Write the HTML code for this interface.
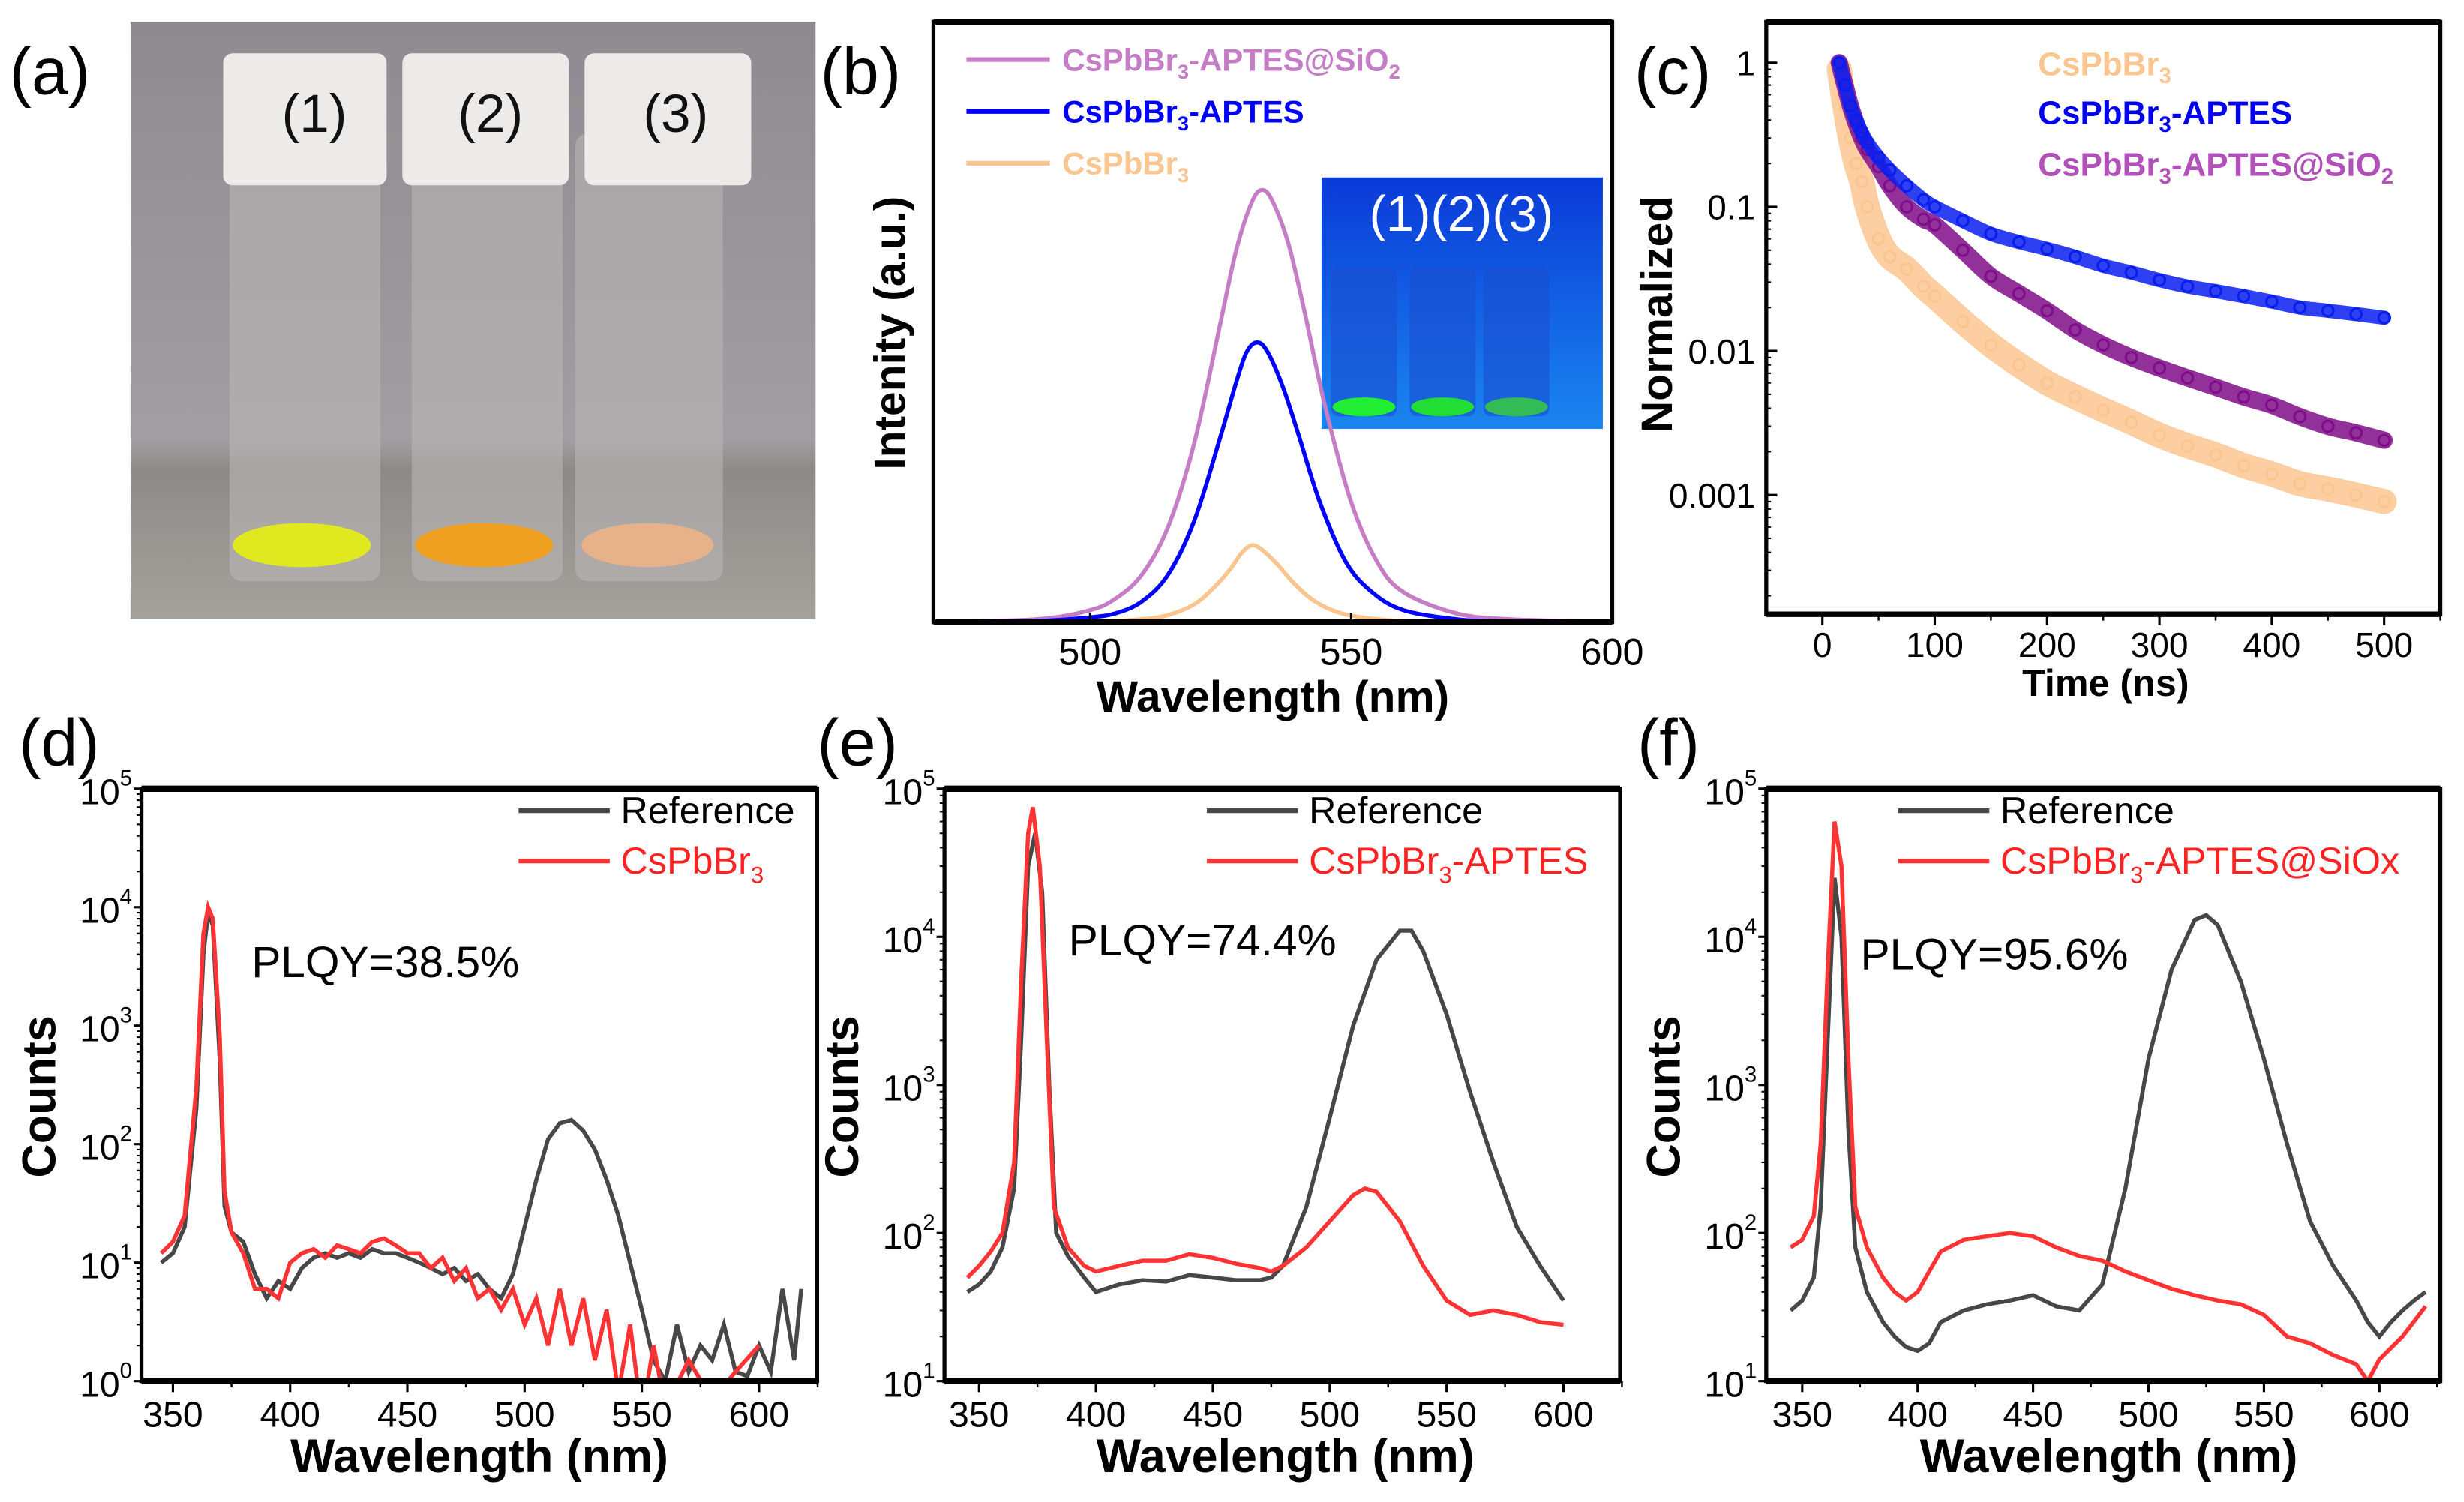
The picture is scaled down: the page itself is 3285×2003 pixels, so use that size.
<!DOCTYPE html>
<html><head><meta charset="utf-8"><style>
html,body{margin:0;padding:0;background:#fff;}
svg{display:block;}
text{font-family:"Liberation Sans",sans-serif;}
</style></head><body>
<svg id="fig" xmlns="http://www.w3.org/2000/svg" width="3285" height="2003" viewBox="0 0 1568 956" preserveAspectRatio="none">
<defs>
<linearGradient id="photoBg" x1="0" y1="0" x2="0" y2="1"><stop offset="0" stop-color="#8f8a8f"/><stop offset="0.7" stop-color="#a29ea2"/><stop offset="0.75" stop-color="#8d8a87"/><stop offset="1" stop-color="#a5a29e"/></linearGradient>
<linearGradient id="insetBg" x1="0" y1="0" x2="0" y2="1"><stop offset="0" stop-color="#0a3ad8"/><stop offset="1" stop-color="#1a86f0"/></linearGradient>
<clipPath id="clipB"><rect x="594" y="14" width="432" height="382"/></clipPath>
<clipPath id="clipC"><rect x="1124" y="14" width="429" height="377"/></clipPath>
<clipPath id="clipD"><rect x="90" y="502" width="430" height="377"/></clipPath>
<clipPath id="clipE"><rect x="601" y="502" width="430" height="377"/></clipPath>
<clipPath id="clipF"><rect x="1124" y="502" width="429" height="377"/></clipPath>
</defs>

<!-- panel labels -->
<text x="6" y="60" font-size="42">(a)</text>
<text x="522" y="60" font-size="42">(b)</text>
<text x="1040" y="60" font-size="42">(c)</text>
<text x="12" y="487" font-size="42">(d)</text>
<text x="520" y="487" font-size="42">(e)</text>
<text x="1042" y="487" font-size="42">(f)</text>

<!-- (a) photo -->
<g>
<rect x="83" y="14" width="436" height="380" fill="url(#photoBg)"/>
<g>
<rect x="146" y="85" width="96" height="285" rx="8" fill="#b9b6b6" opacity="0.6"/>
<rect x="142" y="34" width="104" height="84" rx="6" fill="#ecebea"/>
<ellipse cx="192" cy="347" rx="44" ry="14" fill="#e0e820"/>
<text x="200" y="84" font-size="34" text-anchor="middle" fill="#111">(1)</text></g>
<g>
<rect x="262" y="85" width="96" height="285" rx="8" fill="#b9b6b6" opacity="0.6"/>
<rect x="256" y="34" width="106" height="84" rx="6" fill="#ecebea"/>
<ellipse cx="308" cy="347" rx="44" ry="14" fill="#f0a020"/>
<text x="312" y="84" font-size="34" text-anchor="middle" fill="#111">(2)</text></g>
<g>
<rect x="366" y="85" width="94" height="285" rx="8" fill="#b9b6b6" opacity="0.6"/>
<rect x="372" y="34" width="106" height="84" rx="6" fill="#ecebea"/>
<ellipse cx="412" cy="347" rx="42" ry="14" fill="#e7b28a"/>
<text x="430" y="84" font-size="34" text-anchor="middle" fill="#111">(3)</text></g>
</g>

<g id="gB"></g>
<g id="gC"></g>
<g id="gD"></g>
<g id="gE"></g>
<g id="gF"></g>
</svg>
<script>
// ---------- (b) data ----------
const bTicks=[500,550,600];
const bPurpleX=[470,490,500,505,510,515,520,525,528,531,533,535,538,541,545,550,555,560,570,580,600];
const bPurpleY=[0,0.005,0.02,0.04,0.08,0.16,0.3,0.5,0.62,0.70,0.72,0.70,0.63,0.52,0.36,0.2,0.1,0.05,0.015,0.005,0];
const bBlueX=[470,490,500,505,510,515,520,525,528,530,532,534,537,540,544,549,554,560,570,580,600];
const bBlueY=[0,0.002,0.008,0.015,0.035,0.08,0.17,0.31,0.40,0.45,0.466,0.45,0.39,0.31,0.2,0.1,0.05,0.02,0.005,0.001,0];
const bOrangeX=[470,500,510,515,520,524,527,529,531,533,536,539,543,548,555,565,600];
const bOrangeY=[0,0.001,0.005,0.012,0.03,0.06,0.09,0.115,0.128,0.12,0.095,0.065,0.035,0.015,0.005,0.001,0];
// ---------- (c) data ----------
const cTicks=[0,100,200,300,400,500];
const cYTicks=[1,0.1,0.01,0.001];
const cYLabels=["1","0.1","0.01","0.001"];
const cTime=[15,20,25,30,35,40,50,60,75,90,100,125,150,175,200,225,250,275,300,325,350,375,400,425,450,475,500];
const cBlue=[1,0.7,0.5,0.4,0.33,0.28,0.22,0.18,0.14,0.112,0.1,0.08,0.065,0.057,0.051,0.045,0.039,0.035,0.031,0.028,0.026,0.024,0.022,0.02,0.019,0.018,0.017];
const cPurple=[1,0.7,0.5,0.38,0.3,0.25,0.19,0.14,0.1,0.082,0.075,0.05,0.033,0.025,0.019,0.014,0.011,0.009,0.0076,0.0065,0.0056,0.0048,0.0042,0.0035,0.003,0.0027,0.0024];
const cOrange=[0.9,0.5,0.3,0.2,0.15,0.1,0.06,0.045,0.037,0.028,0.024,0.016,0.011,0.008,0.006,0.0048,0.0039,0.0032,0.0026,0.0022,0.0019,0.0016,0.0014,0.0012,0.0011,0.001,0.0009];
// ---------- (d) data ----------
const dTicks=[350,400,450,500,550,600];
const dRefX=[345,350,355,360,363,365,367,370,372,375,380,385,390,395,400,405,410,415,420,425,430,435,440,445,450,455,460,465,470,475,480,485,490,495,500,505,510,515,520,525,530,535,540,545,550,555,560,565,570,575,580,585,590,595,600,605,610,615,618];
const dRefY=[10,12,20,200,4000,9000,7000,500,30,18,15,8,5,7,6,9,11,12,11,12,11,13,12,12,11,10,9,8,9,7,8,6,5,8,20,50,110,150,160,130,90,50,25,10,4,1.5,1,3,1.2,2,1.5,3,1.2,1.1,2,1.2,6,1.5,6];
const dSmpX=[345,350,355,360,363,365,367,370,372,375,380,385,390,395,400,405,410,415,420,425,430,435,440,445,450,455,460,465,470,475,480,485,490,495,500,505,510,515,520,525,530,535,540,545,550,555,560,570,580,590,600];
const dSmpY=[12,15,25,300,6000,10000,8000,800,40,18,12,6,6,5,10,12,13,11,14,13,12,15,16,14,12,12,9,11,7,9,5,6,4,6,3,5,2,6,2,5,1.5,4,0.8,3,0.5,2,0.6,1.5,0.7,1.2,2];
// ---------- (e) data ----------
const eTicks=[350,400,450,500,550,600];
const eRefX=[345,350,355,360,365,368,371,374,377,380,383,388,395,400,410,420,430,440,450,460,470,475,480,490,500,510,520,530,535,540,550,560,570,580,590,600];
const eRefY=[40,45,55,80,200,2000,30000,50000,20000,1000,100,70,50,40,45,48,47,52,50,48,48,50,60,150,600,2500,7000,11000,11000,8000,3000,900,300,110,60,35];
const eSmpX=[345,350,355,360,365,368,371,373,376,379,382,388,395,400,410,420,430,440,450,460,470,475,480,490,500,510,515,520,530,540,550,560,570,580,590,600];
const eSmpY=[50,60,75,100,300,5000,50000,75000,30000,2000,150,80,60,55,60,65,65,72,68,62,58,55,60,80,120,180,200,190,120,60,35,28,30,28,25,24];
// ---------- (f) data ----------
const fTicks=[350,400,450,500,550,600];
const fRefX=[345,350,355,358,361,364,367,370,373,378,385,390,395,400,405,410,420,430,440,450,460,470,480,490,500,510,520,525,530,540,550,560,570,580,590,595,600,605,610,615,620];
const fRefY=[30,35,50,150,2000,25000,10000,500,80,40,25,20,17,16,18,25,30,33,35,38,32,30,45,200,1500,6000,13000,14000,12000,5000,1500,400,120,60,35,25,20,25,30,35,40];
const fSmpX=[345,350,355,358,361,364,367,370,373,378,385,390,395,400,405,410,420,430,440,450,460,470,480,490,500,510,520,530,540,550,560,570,580,590,595,600,610,620];
const fSmpY=[80,90,130,400,6000,60000,30000,1500,150,80,50,40,35,40,55,75,90,95,100,95,80,70,65,55,48,42,38,35,33,28,20,18,15,13,10,14,20,32];

const NS="http://www.w3.org/2000/svg";
function mk(parent,tag,attrs){const e=document.createElementNS(NS,tag);for(const k in attrs)e.setAttribute(k,attrs[k]);parent.appendChild(e);return e;}
function txt(parent,x,y,s,size,extra){const t=mk(parent,'text',Object.assign({x:x,y:y,'font-size':size},extra||{}));t.textContent=s;return t;}
function pathD(xs,ys,xf,yf){let d='';for(let i=0;i<xs.length;i++){d+=(i?'L':'M')+xf(xs[i]).toFixed(2)+','+yf(ys[i]).toFixed(2);}return d;}
function smoothD(xs,ys,xf,yf){const p=xs.map((x,i)=>[xf(x),yf(ys[i])]);let d='M'+p[0][0]+','+p[0][1];for(let i=0;i<p.length-1;i++){const p0=p[i-1]||p[i],p1=p[i],p2=p[i+1],p3=p[i+2]||p2;const c1x=p1[0]+(p2[0]-p0[0])/6,c1y=p1[1]+(p2[1]-p0[1])/6,c2x=p2[0]-(p3[0]-p1[0])/6,c2y=p2[1]-(p3[1]-p1[1])/6;d+='C'+c1x.toFixed(2)+','+c1y.toFixed(2)+' '+c2x.toFixed(2)+','+c2y.toFixed(2)+' '+p2[0].toFixed(2)+','+p2[1].toFixed(2);}return d;}

// ===== Panel B =====
(function(){
const g=document.getElementById('gB');
const L=594,R=1026,T=14,B=396;
const xf=v=>L+(v-470)/130*(R-L);
const yf=v=>B-v*(B-T);
const inset=mk(g,'g',{});


mk(inset,'rect',{x:841,y:113,width:179,height:160,fill:'url(#insetBg)'});
[[865,'#22ee33'],[915,'#22dd33'],[962,'#33bb55']].forEach((v,i)=>{mk(inset,'rect',{x:v[0]-18,y:170,width:42,height:95,rx:5,fill:'#1a4fd0',opacity:0.6});mk(inset,'ellipse',{cx:v[0]+3,cy:259,rx:20,ry:6,fill:v[1]});});
const it=txt(inset,930,147,'(1)(2)(3)',32,{'text-anchor':'middle',fill:'#fff'});
const series=[[bOrangeX,bOrangeY,'#fbc590','curve-cspbbr3'],[bPurpleX,bPurpleY,'#c57dc6','curve-cspbbr3-aptes-sio2'],[bBlueX,bBlueY,'#0000ff','curve-cspbbr3-aptes']];
series.forEach(s=>{const p=mk(g,'path',{d:smoothD(s[0],s[1],xf,yf),fill:'none',stroke:s[2],'stroke-width':2.6,'clip-path':'url(#clipB)'});

});
const fr=mk(g,'rect',{x:L,y:T,width:R-L,height:B-T,fill:'none',stroke:'#000','stroke-width':2.5});


mk(g,'line',{x1:L,y1:T,x2:R,y2:T,stroke:'#000','stroke-width':3.5});
mk(g,'line',{x1:L,y1:B,x2:R,y2:B,stroke:'#000','stroke-width':3.5});
bTicks.forEach(v=>{const t=txt(g,xf(v),423,String(v),24,{'text-anchor':'middle'});


mk(g,'line',{x1:xf(v),y1:B,x2:xf(v),y2:B-6,stroke:'#000','stroke-width':1.5});});
const xt=txt(g,810,453,'Wavelength (nm)',28,{'text-anchor':'middle','font-weight':'bold'});


const yt=txt(g,0,0,'Intenity (a.u.)',28,{'text-anchor':'middle','font-weight':'bold',transform:'translate(576,212) rotate(-90)'});


const leg=[[38,'#c57dc6','-APTES@SiO','2'],[71,'#0000ff','-APTES',''],[104,'#fbc590','','']];
leg.forEach((l,i)=>{const e=mk(g,'g',{});


mk(e,'line',{x1:615,y1:l[0],x2:668,y2:l[0],stroke:l[1],'stroke-width':3});
const t=mk(e,'text',{x:676,y:l[0]+7,'font-size':20,fill:l[1],'font-weight':'bold','font-family':'Liberation Serif, serif'});
t.innerHTML='CsPbBr<tspan font-size="13" dy="5">3</tspan><tspan dy="-5">'+l[2]+'</tspan>'+(l[3]?'<tspan font-size="13" dy="5">'+l[3]+'</tspan>':'');});
})();

// ===== Panel C =====
(function(){
const g=document.getElementById('gC');
const L=1124,R=1553,T=14,B=391;
const xf=v=>L+(v+50)/600*(R-L);
const yf=v=>40-Math.log10(v)*91.7;
const series=[[cOrange,'#fbc590','decay-cspbbr3',16],[cPurple,'#800d8a','decay-cspbbr3-aptes-sio2',11],[cBlue,'#0a1ef0','decay-cspbbr3-aptes',9]];
series.forEach(s=>{const grp=mk(g,'g',{'clip-path':'url(#clipC)'});


mk(grp,'path',{d:smoothD(cTime,s[0],xf,yf),fill:'none',stroke:s[1],'stroke-width':s[3],'stroke-linecap':'round',opacity:0.85});
cTime.forEach((t,i)=>{const c=mk(grp,'circle',{cx:xf(t),cy:yf(s[0][i]),r:3.5,fill:'none',stroke:s[1],'stroke-width':1.5});

});});
const fr=mk(g,'rect',{x:L,y:T,width:R-L,height:B-T,fill:'none',stroke:'#000','stroke-width':2.5});


mk(g,'line',{x1:L,y1:T,x2:R,y2:T,stroke:'#000','stroke-width':3.5});
mk(g,'line',{x1:L,y1:B,x2:R,y2:B,stroke:'#000','stroke-width':3.5});
cTicks.forEach(v=>{mk(g,'line',{x1:xf(v),y1:B,x2:xf(v),y2:B+7,stroke:'#000','stroke-width':1.5});
mk(g,'line',{x1:xf(v+50),y1:B,x2:xf(v+50),y2:B+4,stroke:'#000','stroke-width':1.2});
const t=txt(g,xf(v),418,String(v),22,{'text-anchor':'middle'});

});
cYTicks.forEach((v,i)=>{mk(g,'line',{x1:L,y1:yf(v),x2:L+7,y2:yf(v),stroke:'#000','stroke-width':1.5});
for(let k=2;k<10;k++){const y=yf(v*k/10);if(y>T&&y<B)mk(g,'line',{x1:L,y1:y,x2:L+3,y2:y,stroke:'#000','stroke-width':1});}
const t=txt(g,1117,yf(v)+8,cYLabels[i],22,{'text-anchor':'end'});

});
const xt=txt(g,1340,443,'Time (ns)',24,{'text-anchor':'middle','font-weight':'bold'});


const yt=txt(g,0,0,'Normalized',28,{'text-anchor':'middle','font-weight':'bold',transform:'translate(1064,200) rotate(-90)'});


[[48,'#fbc590',''],[79,'#0000ee','-APTES'],[112,'#b050b8','-APTES@SiO<tspan font-size="14" dy="5">2</tspan>']].forEach(l=>{
const t=mk(g,'text',{x:1297,y:l[0],'font-size':21,'font-weight':'bold',fill:l[1]});


t.innerHTML='CsPbBr<tspan font-size="14" dy="5">3</tspan><tspan dy="-5">'+l[2]+'</tspan>';});
})();

// ===== Panels D/E/F =====
function spec(id,clip,L,R,xmin,xmax,lmin,lmax,ticks,refX,refY,smpX,smpY,legHtml,legX,plqy,plqyX,plqyY,titleX,tag){
const g=document.getElementById(id);
const T=502,B=879;
const xf=v=>L+(v-xmin)/(xmax-xmin)*(R-L);
const yf=v=>B-(Math.log10(Math.max(v,1e-3))-lmin)/(lmax-lmin)*(B-T);
const r=mk(g,'path',{d:pathD(refX,refY,xf,yf),fill:'none',stroke:'#474747','stroke-width':2.6,'clip-path':'url('+clip+')'});


const s=mk(g,'path',{d:pathD(smpX,smpY,xf,yf),fill:'none',stroke:'#ff3333','stroke-width':2.6,'clip-path':'url('+clip+')'});


const fr=mk(g,'rect',{x:L,y:T,width:R-L,height:B-T,fill:'none',stroke:'#000','stroke-width':2.5});


mk(g,'line',{x1:L,y1:T,x2:R,y2:T,stroke:'#000','stroke-width':4});
mk(g,'line',{x1:L,y1:B,x2:R,y2:B,stroke:'#000','stroke-width':4});
ticks.forEach(v=>{mk(g,'line',{x1:xf(v),y1:B,x2:xf(v),y2:B+7,stroke:'#000','stroke-width':1.5});
mk(g,'line',{x1:xf(v+25),y1:B,x2:xf(v+25),y2:B+4,stroke:'#000','stroke-width':1.2});
const t=txt(g,xf(v),908,String(v),23,{'text-anchor':'middle'});

});
for(let e=lmin;e<=lmax;e++){const y=yf(Math.pow(10,e));
mk(g,'line',{x1:L,y1:y,x2:L-5,y2:y,stroke:'#000','stroke-width':1.5});
for(let k=2;k<10&&e<lmax;k++){mk(g,'line',{x1:L,y1:yf(k*Math.pow(10,e)),x2:L-3,y2:yf(k*Math.pow(10,e)),stroke:'#000','stroke-width':1});}
const t=mk(g,'text',{x:L-6,y:y+10,'font-size':23,'text-anchor':'end'});


t.innerHTML='10<tspan font-size="14" dy="-12">'+e+'</tspan>';}
const xt=txt(g,titleX,937,'Wavelength (nm)',30,{'text-anchor':'middle','font-weight':'bold'});


const yt=txt(g,0,0,'Counts',30,{'text-anchor':'middle','font-weight':'bold',transform:'translate('+(L-55)+',698) rotate(-90)'});


const l1=mk(g,'g',{});


mk(l1,'line',{x1:legX,y1:516,x2:legX+58,y2:516,stroke:'#474747','stroke-width':3});
txt(l1,legX+65,524,'Reference',24);
const l2=mk(g,'g',{});


mk(l2,'line',{x1:legX,y1:548,x2:legX+58,y2:548,stroke:'#ff3333','stroke-width':3});
const lt=mk(l2,'text',{x:legX+65,y:556,'font-size':24,fill:'#ff2222'});
lt.innerHTML=legHtml;
const pt=txt(g,plqyX,plqyY,plqy,28);


}
const sub3='CsPbBr<tspan font-size="15" dy="6">3</tspan><tspan dy="-6">';
spec('gD','#clipD',90,520,336.6,624.8,0,5,dTicks,dRefX,dRefY,dSmpX,dSmpY,sub3+'</tspan>',330,'PLQY=38.5%',160,622,305,'d');
spec('gE','#clipE',601,1031,335.2,624.2,1,5,eTicks,eRefX,eRefY,eSmpX,eSmpY,sub3+'-APTES</tspan>',768,'PLQY=74.4%',680,608,818,'e');
spec('gF','#clipF',1124,1553,334.4,626.4,1,5,fTicks,fRefX,fRefY,fSmpX,fSmpY,sub3+'-APTES@SiOx</tspan>',1208,'PLQY=95.6%',1184,617,1342,'f');
</script>
</body></html>
